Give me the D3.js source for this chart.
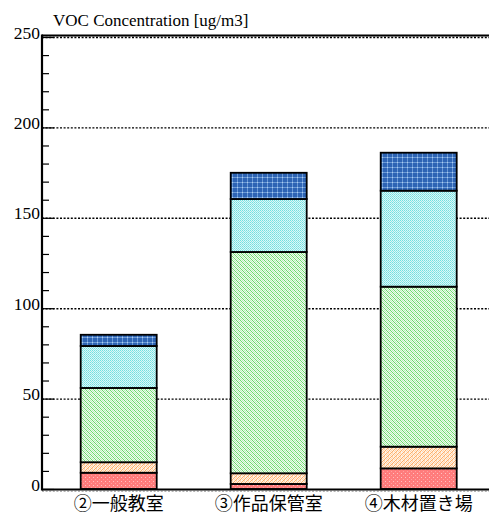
<!DOCTYPE html>
<html>
<head>
<meta charset="utf-8">
<script src="https://cdn.jsdelivr.net/npm/d3@7"></script>
<style>
  html, body { margin: 0; padding: 0; background: #fff; }
  svg { display: block; }
  .serif { font-family: "Liberation Serif", "Times New Roman", Times, "DejaVu Serif", serif; }
  .cjk { font-family: "Noto Sans CJK JP", sans-serif; }
</style>
</head>
<body>
<svg id="chart" width="489" height="514"></svg>
<script>
// Rooms on the x axis
const categories = ["②一般教室", "③作品保管室", "④木材置き場"];

// Stacked layers, bottom to top (ug/m3)
const layer1 = [9.0, 2.8, 11.4];
const layer2 = [5.8, 5.9, 12.0];
const layer3 = [41.1, 122.4, 88.5];
const layer4 = [23.2, 29.3, 53.1];
const layer5 = [6.2, 14.5, 21.0];

const yTicks = [0, 50, 100, 150, 200, 250];
const yTitle = "VOC Concentration [ug/m3]";

const layers = [layer1, layer2, layer3, layer4, layer5];
const layerKeys = ["l1", "l2", "l3", "l4", "l5"];

const svg = d3.select("#chart");

// ---- fill patterns ----
const defs = svg.append("defs");
function tile(id, size, bg, pixels) {
  const p = defs.append("pattern").attr("id", id)
    .attr("patternUnits", "userSpaceOnUse")
    .attr("width", size).attr("height", size);
  p.append("rect").attr("width", size).attr("height", size).attr("fill", bg);
  pixels.forEach(([x, y, w, h, c]) => {
    p.append("rect").attr("x", x).attr("y", y).attr("width", w).attr("height", h).attr("fill", c);
  });
}
// red dotted
tile("p-l1", 4, "#ff7c7c", [[1, 1, 1, 1, "#ffc0c0"], [3, 3, 1, 1, "#ffa0a0"]]);
// orange fine diagonal texture
tile("p-l2", 4, "#fff2e4", [
  [3, 0, 1, 1, "#ffae68"], [0, 0, 1, 1, "#ffd6b0"],
  [2, 1, 1, 1, "#ffae68"], [0, 1, 1, 1, "#ffd6b0"],
  [1, 2, 1, 1, "#ffae68"], [3, 2, 1, 1, "#ffd6b0"],
  [0, 3, 1, 1, "#ffae68"], [2, 3, 1, 1, "#ffd6b0"]
]);
// green fine diagonal texture
tile("p-l3", 4, "#eefbee", [
  [0, 0, 1, 1, "#6cda6c"], [2, 0, 1, 1, "#b8eeb8"],
  [1, 1, 1, 1, "#6cda6c"], [3, 1, 1, 1, "#b8eeb8"],
  [2, 2, 1, 1, "#6cda6c"], [0, 2, 1, 1, "#b8eeb8"],
  [3, 3, 1, 1, "#6cda6c"], [1, 3, 1, 1, "#b8eeb8"]
]);
// cyan checker
tile("p-l4", 2, "#dcf8f8", [[0, 0, 1, 1, "#72e0e0"], [1, 1, 1, 1, "#8ee6e6"]]);
// blue plaid
tile("p-l5", 5, "#2e64b4", [
  [2, 0, 1, 5, "#6a9ad6"], [0, 2, 5, 1, "#6a9ad6"], [2, 2, 1, 1, "#b0ccee"]
]);

// ---- scales ----
const x = d3.scaleBand().domain(categories)
  .range([43.7, 493.7])
  .paddingInner(74 / 150)
  .paddingOuter(37 / 150);
const y = d3.scaleLinear().domain([0, 250]).range([489, 37]);

const axisX = 42;
const rightX = 489;

// ---- gridlines (dotted) ----
svg.append("g").selectAll("line")
  .data(yTicks.filter(d => d > 0))
  .join("line")
  .attr("x1", axisX).attr("x2", rightX)
  .attr("y1", d => y(d) + 0.5).attr("y2", d => y(d) + 0.5)
  .attr("stroke", "#000").attr("stroke-width", 1.4)
  .attr("stroke-dasharray", "2,1.6");

// solid top border
svg.append("line")
  .attr("x1", axisX).attr("x2", rightX)
  .attr("y1", y(250) - 1.5).attr("y2", y(250) - 1.5)
  .attr("stroke", "#000").attr("stroke-width", 2);

// ---- stacked bars ----
const rows = categories.map((c, i) => {
  const r = { cat: c };
  layerKeys.forEach((k, j) => { r[k] = layers[j][i]; });
  return r;
});
const stacked = d3.stack().keys(layerKeys)(rows);

svg.append("g").selectAll("g")
  .data(stacked)
  .join("g")
  .attr("fill", d => `url(#p-${d.key})`)
  .selectAll("rect")
  .data(d => d)
  .join("rect")
  .attr("x", d => x(d.data.cat))
  .attr("width", x.bandwidth())
  .attr("y", d => y(d[1]))
  .attr("height", d => y(d[0]) - y(d[1]))
  .attr("stroke", "#000")
  .attr("stroke-width", 1.8);

// ---- baseline ----
svg.append("line")
  .attr("x1", axisX).attr("x2", rightX)
  .attr("y1", y(0) + 0.5).attr("y2", y(0) + 0.5)
  .attr("stroke", "#000").attr("stroke-width", 2);
svg.append("line")
  .attr("x1", axisX).attr("x2", rightX)
  .attr("y1", y(0) + 2).attr("y2", y(0) + 2)
  .attr("stroke", "#666").attr("stroke-width", 1)
  .attr("stroke-dasharray", "2,1.6");

// ---- left axis with inward ticks ----
const minor = d3.range(0, 251, 10);
svg.append("g").selectAll("line")
  .data(minor)
  .join("line")
  .attr("x1", axisX)
  .attr("x2", d => axisX + (d % 50 === 0 ? 12 : 7))
  .attr("y1", d => y(d) + 0.5).attr("y2", d => y(d) + 0.5)
  .attr("stroke", "#000").attr("stroke-width", 1.2);

svg.append("line")
  .attr("x1", axisX).attr("x2", axisX)
  .attr("y1", y(250) - 2.5).attr("y2", y(0) + 1.5)
  .attr("stroke", "#000").attr("stroke-width", 2.2);

svg.append("g").selectAll("text")
  .data(yTicks)
  .join("text")
  .attr("class", "serif")
  .attr("x", axisX - 2)
  .attr("y", d => y(d) + 1.5)
  .attr("text-anchor", "end")
  .attr("font-size", 17.5)
  .attr("fill", "#000")
  .text(d => d);

// axis title
svg.append("text")
  .attr("class", "serif")
  .attr("x", 53).attr("y", 26)
  .attr("font-size", 17)
  .attr("fill", "#000")
  .text(yTitle);

// category labels
svg.append("g").selectAll("text")
  .data(categories)
  .join("text")
  .attr("class", "cjk")
  .attr("x", d => x(d) + x.bandwidth() / 2)
  .attr("y", 510)
  .attr("text-anchor", "middle")
  .attr("font-size", 18)
  .attr("fill", "#000")
  .text(d => d);
</script>
</body>
</html>
